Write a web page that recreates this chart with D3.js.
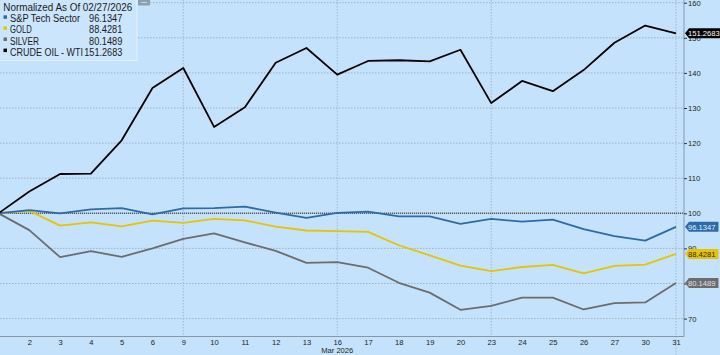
<!DOCTYPE html>
<html>
<head>
<meta charset="utf-8">
<script src="https://cdn.jsdelivr.net/npm/d3@7"></script>
<style>
html,body{margin:0;padding:0;background:#c5e2fc;}
svg{display:block;font-family:"Liberation Sans",Arial,sans-serif;}
</style>
</head>
<body>
<svg id="chart" width="720" height="355"></svg>
<script>
const dates = ["2026-02-27","2026-03-02","2026-03-03","2026-03-04","2026-03-05","2026-03-06","2026-03-09","2026-03-10","2026-03-11","2026-03-12","2026-03-13","2026-03-16","2026-03-17","2026-03-18","2026-03-19","2026-03-20","2026-03-23","2026-03-24","2026-03-25","2026-03-26","2026-03-27","2026-03-30","2026-03-31"];
const tickLabels = ["","2","3","4","5","6","9","10","11","12","13","16","17","18","19","20","23","24","25","26","27","30","31"];
const yTicks = [70,80,90,100,110,120,130,140,150,160];
const seriesNames = ["S&P Tech Sector","GOLD","SILVER","CRUDE OIL - WTI"];
const tech   = [100,100.9,100,101.1,101.5,99.7,101.4,101.5,101.9,100.2,98.7,100.1,100.5,99.1,99.1,97.0,98.4,97.6,98.2,95.5,93.5,92.2,96.1347];
const gold   = [100,100.7,96.5,97.4,96.3,97.9,97.3,98.4,98.0,96.2,95.1,94.9,94.7,90.9,88.0,85.1,83.5,84.7,85.3,82.9,85.0,85.4,88.4281];
const silver = [100,95.2,87.5,89.2,87.6,90.0,92.7,94.3,91.7,89.3,85.9,86.1,84.5,80.2,77.4,72.5,73.6,76.0,76.0,72.6,74.4,74.6,80.1489];
const crude  = [100,106.2,111.2,111.3,120.8,135.7,141.4,124.6,130.2,142.9,147.1,139.5,143.4,143.6,143.3,146.6,131.4,137.7,134.8,140.8,148.6,153.5,151.2683];
const weekLines = ["2026-03-09","2026-03-16","2026-03-23"];

const colors = ["#2c6aaa","#e8c300","#6c6c6c","#000000"];
const labelText = ["#e3eefa","#2a2a2a","#e0e0e0","#ffffff"];
const series = [tech, gold, silver, crude];

const svg = d3.select("#chart");
const W = 720, H = 355;
const axisX = 684, axisY = 336.5;

const x = d3.scalePoint().domain(dates).range([-1.5, 676]);
const y = d3.scaleLinear().domain([70,160]).range([318.6, 2.7]);

svg.append("rect").attr("width",W).attr("height",H).attr("fill","#c5e2fc");

// horizontal grid
svg.append("g").selectAll("line").data(yTicks.filter(t=>t!==100)).join("line")
  .attr("x1",0).attr("x2",axisX).attr("y1",d=>y(d)).attr("y2",d=>y(d))
  .attr("stroke","#9fb3c4").attr("stroke-width",1).attr("stroke-dasharray","1.5,1.5");

// vertical week lines
svg.append("g").selectAll("line").data(weekLines).join("line")
  .attr("x1",d=>x(d)).attr("x2",d=>x(d)).attr("y1",0).attr("y2",axisY)
  .attr("stroke","#a3b7c8").attr("stroke-width",1).attr("stroke-dasharray","1.5,1.5");
svg.append("line").attr("x1",x(dates[dates.length-1])).attr("x2",x(dates[dates.length-1]))
  .attr("y1",0).attr("y2",H).attr("stroke","#a3b7c8").attr("stroke-width",1).attr("stroke-dasharray","1.5,1.5");

// 100 baseline
svg.append("line").attr("x1",0).attr("x2",axisX).attr("y1",y(100)).attr("y2",y(100))
  .attr("stroke","#5a5a5a").attr("stroke-width",1.6).attr("stroke-dasharray","1.2,0.8");

// lines
const line = d3.line().x((d,i)=>x(dates[i])).y(d=>y(d));
[2,1,0,3].forEach(k=>{
  svg.append("path").datum(series[k]).attr("d",line)
    .attr("fill","none").attr("stroke",colors[k]).attr("stroke-width",1.8)
    .attr("stroke-linejoin","round");
});

// axes lines
svg.append("line").attr("x1",axisX).attr("x2",axisX).attr("y1",0).attr("y2",axisY)
  .attr("stroke","#8797a8").attr("stroke-width",1);
svg.append("line").attr("x1",0).attr("x2",axisX).attr("y1",axisY).attr("y2",axisY)
  .attr("stroke","#8797a8").attr("stroke-width",1);

// right axis
const yAxis = d3.axisRight(y).tickValues(yTicks).tickSize(3).tickPadding(1).tickFormat(d3.format("d"));
const gy = svg.append("g").attr("transform",`translate(${axisX},0)`).call(yAxis);
gy.select(".domain").remove();
gy.selectAll(".tick line").attr("stroke","#333");
gy.selectAll(".tick text").attr("fill","#222").attr("font-size","7.6px").attr("font-family","Liberation Sans, Arial, sans-serif");

// bottom axis
const xAxis = d3.axisBottom(x).tickValues(dates.slice(1)).tickSize(0).tickPadding(3)
  .tickFormat((d)=>tickLabels[dates.indexOf(d)]);
const gx = svg.append("g").attr("transform",`translate(0,${axisY})`).call(xAxis);
gx.select(".domain").remove();
gx.selectAll(".tick text").attr("fill","#222").attr("font-size","7.6px").attr("font-family","Liberation Sans, Arial, sans-serif");
svg.append("text").attr("x",x("2026-03-16")).attr("y",353).attr("text-anchor","middle")
  .attr("font-size","7.6px").attr("fill","#222").text("Mar 2026");

// value labels on right
series.forEach((s,k)=>{
  const v = s[s.length-1];
  const cy = y(v);
  const txt = d3.format(".4f")(v);
  const g = svg.append("g");
  const t = g.append("text").attr("x",688).attr("y",cy+2.7).attr("font-size","7.6px")
    .attr("fill",labelText[k]).text(txt);
  const w = t.node().getComputedTextLength();
  const x0 = 685, x1 = 689, x2 = 689 + w + 2, h = 5;
  g.insert("path","text").attr("d",`M${x0},${cy} L${x1},${cy-h} L${x2},${cy-h} L${x2},${cy+h} L${x1},${cy+h} Z`)
    .attr("fill",colors[k]);
});

// legend
const nameWidths = [70, 21.7, 29, 73];
const lg = svg.append("g");
lg.append("rect").attr("x",-1).attr("y",-1).attr("width",138).attr("height",61.5)
  .attr("fill","#cbe5fd").attr("stroke","#e2f1ff").attr("stroke-width",1);
lg.append("text").attr("x",3.3).attr("y",10.8).attr("font-size","10px").attr("fill","#1a1a1a")
  .attr("textLength",129).attr("lengthAdjust","spacingAndGlyphs")
  .text("Normalized As Of 02/27/2026");
seriesNames.forEach((n,k)=>{
  const by = 22.3 + k*11.1;
  const s = series[k];
  lg.append("rect").attr("x",3.5).attr("y",by-7).attr("width",3.5).attr("height",3.5).attr("fill",colors[k]);
  lg.append("text").attr("x",10).attr("y",by).attr("font-size","10px").attr("fill","#1a1a1a")
    .attr("textLength",nameWidths[k]).attr("lengthAdjust","spacingAndGlyphs").text(n);
  const vt = d3.format(".4f")(s[s.length-1]);
  lg.append("text").attr("x",122.3 - vt.length*4.75).attr("y",by).attr("font-size","10px").attr("fill","#1a1a1a")
    .attr("textLength",vt.length*4.75).attr("lengthAdjust","spacingAndGlyphs").text(vt);
});

// small icon
svg.append("rect").attr("x",138).attr("y",-1).attr("width",12).attr("height",6.5).attr("fill","#8d9eb0");
svg.append("line").attr("x1",141).attr("x2",147).attr("y1",2.5).attr("y2",2.5).attr("stroke","#c8d3de").attr("stroke-width",1);
</script>
</body>
</html>
